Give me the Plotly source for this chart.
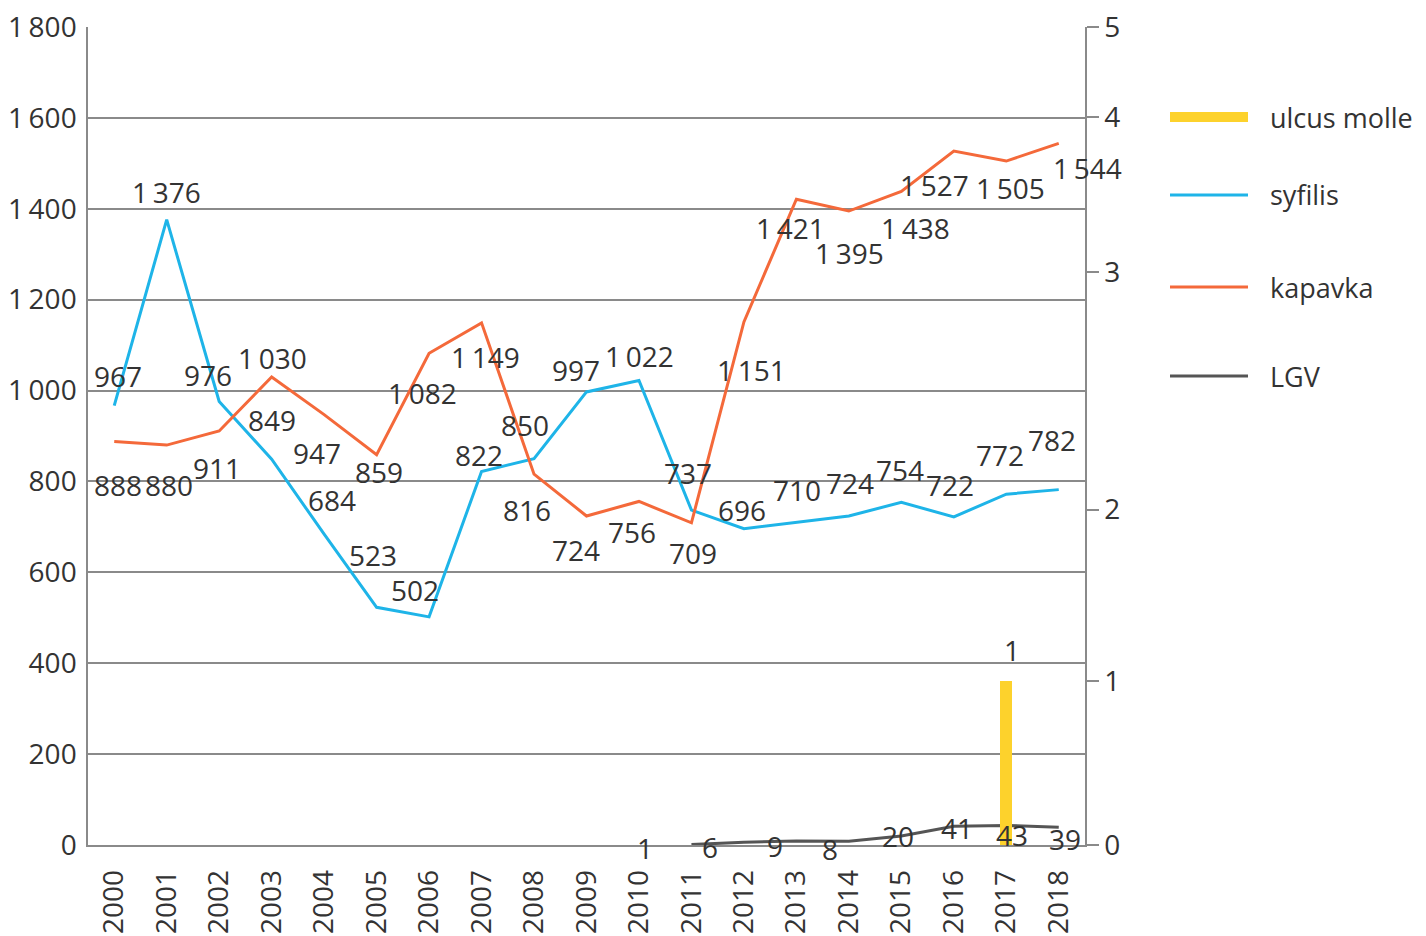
import plotly.graph_objects as go

# ---------------- data ----------------
years = list(range(2000, 2019))
syfilis = [967, 1376, 976, 849, 684, 523, 502, 822, 850, 997, 1022, 737, 696, 710, 724, 754, 722, 772, 782]
kapavka = [888, 880, 911, 1030, 947, 859, 1082, 1149, 816, 724, 756, 709, 1151, 1421, 1395, 1438, 1527, 1505, 1544]
lgv_years = list(range(2011, 2019))
lgv = [1, 6, 9, 8, 20, 41, 43, 39]
ulcus_years = [2017]
ulcus = [1]

left_ticks = list(range(0, 1801, 200))
right_tick_text = ["0", "1", "2", "3", "4", "5"]

# ---------------- label placement (pixel offsets) ----------------
syf_dx = [4, 0, -11, 0, 8, -4, -14, -3, -9, -11, 1, -3, -2, 1, 1, -1, -4, -6, -7]
syf_dy = [30, 28, 26, 39, 34, 52, 27, 16, 34, 22, 25, 37, 19, 32, 33, 32, 32, 39, 50]
kap_dx = [4, 2, -2, 1, -7, 2, -7, 4, -7, -11, -7, 2, 8, -6, 1, 14, -19, 4, 29]
kap_dy = [-44, -40, -37, 19, -38, -17, -40, -34, -36, -34, -31, -30, -48, -29, -42, -36, -34, -27, -25]
lgv_dx = [-46, -34, -21, -19, -3, 3, 6, 6]
lgv_dy = [-3, -5, -5, -8, 0, -2, -10, -12]

FONT = "Open Sans"
FS = 28
TXT = "#333333"
GRID = "#8a8a8a"
C_SYF = "#1eb4e8"
C_KAP = "#f4693a"
C_LGV = "#555555"
C_ULC = "#fdd22c"

# the page body adds an 8px offset; figure size/margins compensate for it
OFF = 8
W, H = 1426 - OFF, 936 - OFF
PL, PR, PT, PB = 88 - OFF, 1085 - OFF, 27 - OFF, 845 - OFF


def fmt(v):
    return f"{v:,}".replace(",", "\u2009")


fig = go.Figure()

fig.add_trace(go.Bar(x=ulcus_years, y=ulcus, yaxis="y2", width=0.23,
                     marker=dict(color=C_ULC, line=dict(width=0)),
                     name="ulcus molle", showlegend=False))
fig.add_trace(go.Scatter(x=years, y=syfilis, mode="lines", name="syfilis",
                         line=dict(color=C_SYF, width=3), showlegend=False))
fig.add_trace(go.Scatter(x=years, y=kapavka, mode="lines", name="kapavka",
                         line=dict(color=C_KAP, width=3), showlegend=False))
fig.add_trace(go.Scatter(x=lgv_years, y=lgv, mode="lines", name="LGV",
                         line=dict(color=C_LGV, width=3), showlegend=False))

ann = []
lab_font = dict(family=FONT, size=FS, color=TXT)
for i, (x, v) in enumerate(zip(years, syfilis)):
    ann.append(dict(x=x, y=v, xref="x", yref="y", text=fmt(v), showarrow=False,
                    xshift=syf_dx[i], yshift=syf_dy[i], font=lab_font))
for i, (x, v) in enumerate(zip(years, kapavka)):
    ann.append(dict(x=x, y=v, xref="x", yref="y", text=fmt(v), showarrow=False,
                    xshift=kap_dx[i], yshift=kap_dy[i], font=lab_font))
for i, (x, v) in enumerate(zip(lgv_years, lgv)):
    ann.append(dict(x=x, y=v, xref="x", yref="y", text=fmt(v), showarrow=False,
                    xshift=lgv_dx[i], yshift=lgv_dy[i], font=lab_font))
for x, v in zip(ulcus_years, ulcus):
    ann.append(dict(x=x, y=v, xref="x", yref="y2", text=fmt(v), showarrow=False,
                    xshift=6, yshift=31, font=lab_font))


# manual legend (positions given in screenshot pixels)
def px_x(px):
    return (px - OFF - PL) / (PR - PL)


def px_y(py):
    return (PB - (py - OFF)) / (PB - PT)


legend_items = [("ulcus molle", C_ULC, 10, 117), ("syfilis", C_SYF, 3, 195),
                ("kapavka", C_KAP, 3, 287), ("LGV", C_LGV, 3, 376)]
shapes = []
for name, col, w, py in legend_items:
    shapes.append(dict(type="line", xref="paper", yref="paper",
                       x0=px_x(1170), x1=px_x(1248), y0=px_y(py), y1=px_y(py),
                       line=dict(color=col, width=w)))
    ann.append(dict(x=px_x(1268), y=px_y(py), xref="paper", yref="paper", text=name,
                    showarrow=False, xanchor="left", yanchor="middle",
                    font=dict(family=FONT, size=27, color=TXT)))

right_pos = [0, 1, 2.05, 3.5, 4.45, 5]

fig.update_layout(
    width=W, height=H,
    margin=dict(l=PL, r=W - PR, t=PT, b=H - PB, pad=0, autoexpand=False),
    paper_bgcolor="white", plot_bgcolor="white",
    font=dict(family=FONT, size=FS, color=TXT),
    showlegend=False,
    bargap=0,
    xaxis=dict(range=[1999.5, 2018.5], tickmode="array", tickvals=years,
               ticktext=[str(y) for y in years], tickangle=-90, automargin=False,
               ticklabeloverflow="allow",
               showgrid=False, zeroline=False, showline=True, linecolor=GRID, linewidth=1.5,
               ticks="", ticklabelstandoff=12,
               tickfont=dict(family=FONT, size=FS, color=TXT)),
    yaxis=dict(range=[0, 1800], tickmode="array", tickvals=left_ticks,
               ticktext=[fmt(t) for t in left_ticks], automargin=False,
               ticklabeloverflow="allow",
               showgrid=True, gridcolor=GRID, gridwidth=1.5, zeroline=False,
               showline=True, linecolor=GRID, linewidth=1.5, ticks="",
               ticklabelstandoff=4,
               tickfont=dict(family=FONT, size=FS, color=TXT)),
    yaxis2=dict(range=[0, 5], overlaying="y", side="right", tickmode="array",
                tickvals=right_pos, ticktext=right_tick_text, automargin=False,
                ticklabeloverflow="allow",
                showgrid=False, zeroline=False, showline=True, linecolor=GRID, linewidth=1.5,
                ticks="outside", ticklen=12, tickcolor=GRID, tickwidth=1.5,
                tickfont=dict(family=FONT, size=FS, color=TXT)),
    annotations=ann,
    shapes=shapes,
)

fig.write_html("out.html")
